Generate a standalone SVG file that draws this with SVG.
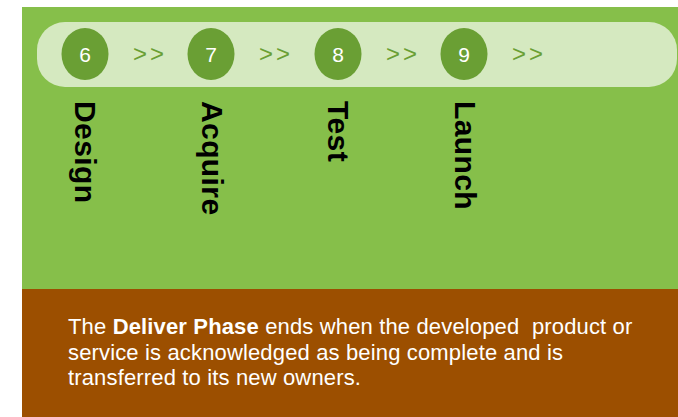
<svg xmlns="http://www.w3.org/2000/svg" width="678" height="417" viewBox="0 0 678 417">
<style>
.num{font-family:"Liberation Sans",Arial,sans-serif;font-size:21px;fill:#ffffff;text-anchor:middle}
.step{fill:#6a9f34}
.arr{font-family:"Liberation Sans",Arial,sans-serif;font-size:24px;fill:#6a9f34;text-anchor:middle;letter-spacing:3px}
.lbl{font-family:"Liberation Sans",Arial,sans-serif;font-size:30px;font-weight:bold;fill:#000000;letter-spacing:0.4px}
.desc{font-family:"Liberation Sans",Arial,sans-serif;font-size:22px;fill:#ffffff;letter-spacing:0.15px}
</style>
<rect x="22" y="7" width="656" height="282" fill="#86bf4a"/>
<rect x="22" y="289" width="656" height="128" fill="#9c4f00"/>
<rect id="pill" x="37" y="22" width="640" height="65" rx="28" ry="28" fill="#d5e9c0"/>
<g id="connectors">
<text class="arr" x="150" y="62">&gt;&gt;</text>
<text class="arr" x="276" y="62">&gt;&gt;</text>
<text class="arr" x="403" y="62">&gt;&gt;</text>
<text class="arr" x="529" y="62">&gt;&gt;</text>
</g>
<g id="step6">
<ellipse class="step" cx="85" cy="54" rx="23.5" ry="26"/>
<text class="num" x="85" y="61.5">6</text>
<text class="lbl" transform="translate(75,101) rotate(90)">Design</text>
</g>
<g id="step7">
<ellipse class="step" cx="211" cy="54" rx="23.5" ry="26"/>
<text class="num" x="211" y="61.5">7</text>
<text class="lbl" transform="translate(202,101) rotate(90)">Acquire</text>
</g>
<g id="step8">
<ellipse class="step" cx="338" cy="54" rx="23.5" ry="26"/>
<text class="num" x="338" y="61.5">8</text>
<text class="lbl" transform="translate(328,101) rotate(90)">Test</text>
</g>
<g id="step9">
<ellipse class="step" cx="464" cy="54" rx="23.5" ry="26"/>
<text class="num" x="464" y="61.5">9</text>
<text class="lbl" transform="translate(455,101) rotate(90)">Launch</text>
</g>
<g id="description">
<text class="desc" x="68" y="334" xml:space="preserve">The <tspan font-weight="bold">Deliver Phase</tspan> ends when the developed  product or</text>
<text class="desc" x="68" y="360">service is acknowledged as being complete and is</text>
<text class="desc" x="68" y="385">transferred to its new owners.</text>
</g>
</svg>
